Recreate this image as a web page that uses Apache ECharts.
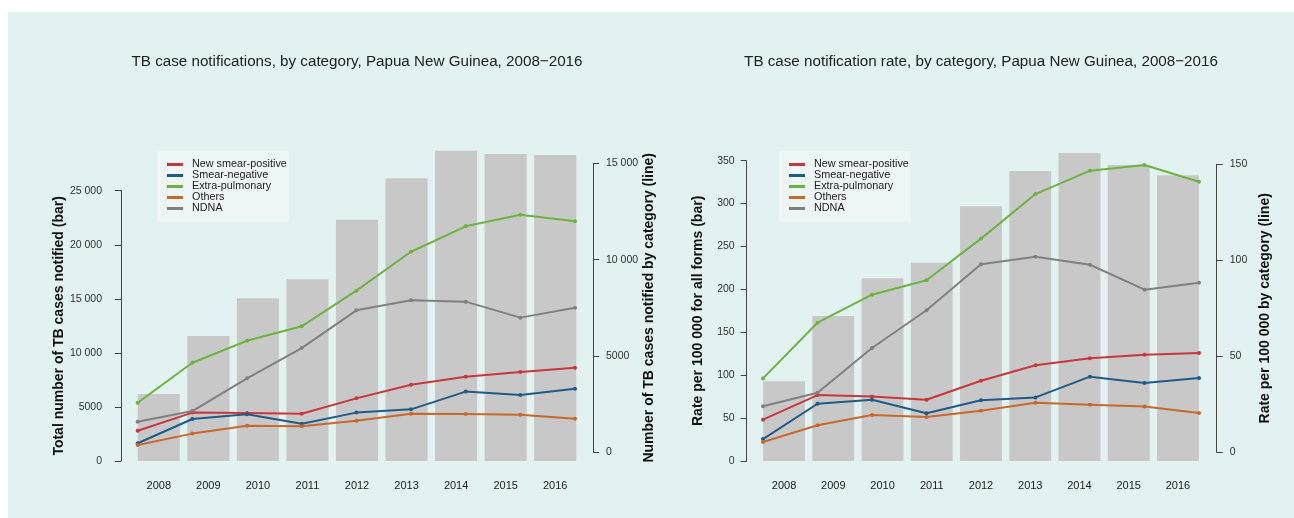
<!DOCTYPE html>
<html>
<head>
<meta charset="utf-8">
<script src="https://cdn.jsdelivr.net/npm/echarts@6/dist/echarts.min.js"></script>
<style>
  html, body { margin: 0; padding: 0; background: #ffffff; }
  #wrap { position: absolute; left: 8px; top: 12px; right: 0; bottom: 0; background: #e2f2f0; }
  #chart { position: absolute; left: 0; top: 0; width: 1294px; height: 518px; }
</style>
</head>
<body>
<div id="wrap"></div>
<div id="chart"></div>
<script>
var years = ['2008', '2009', '2010', '2011', '2012', '2013', '2014', '2015', '2016'];
var seriesNames = ['New smear-positive', 'Smear-negative', 'Extra-pulmonary', 'Others', 'NDNA'];
var seriesColors = ['#c8373b', '#1f5b87', '#6cb33f', '#c7692b', '#808080'];

// case notifications (numbers)
var totalCases = [6200, 11550, 15050, 16800, 22300, 26150, 28700, 28400, 28300];
var newSmearPos = [1120, 2060, 2040, 2000, 2800, 3510, 3920, 4170, 4390];
var smearNeg = [470, 1730, 1970, 1480, 2060, 2230, 3150, 2970, 3300];
var extraPulm = [2570, 4650, 5790, 6540, 8390, 10410, 11730, 12330, 11990];
var others = [380, 970, 1380, 1350, 1640, 2000, 1990, 1950, 1740];
var ndna = [1590, 2140, 3840, 5410, 7370, 7890, 7820, 6990, 7500];

// notification rates per 100 000
var totalRate = [93, 169, 213, 231, 297, 338, 359, 345, 333];
var rateNewSmearPos = [17, 29.8, 29, 27.4, 37.3, 45.3, 49, 50.8, 51.7];
var rateSmearNeg = [6.9, 25.3, 27.4, 20.3, 27.1, 28.6, 39.4, 36.1, 38.7];
var rateExtraPulm = [38.5, 67.5, 82.1, 89.6, 111.3, 134.5, 146.7, 149.6, 140.9];
var rateOthers = [5.4, 14.1, 19.4, 18.4, 21.7, 25.8, 24.8, 23.8, 20.5];
var rateNdna = [24, 31, 54.3, 74, 97.9, 101.9, 97.7, 84.7, 88.3];

var chart = echarts.init(document.getElementById('chart'), null, { renderer: 'canvas' });

var FONT = 'Liberation Sans, Arial, sans-serif';
var axisCol = '#444444';

function fmtNum(v) {
    // 5000 stays plain, 10 000 and above get a space
    if (v >= 10000) return String(v).replace(/\B(?=(\d{3})+(?!\d))/g, ' ');
    return String(v);
}

function lineSeries(name, color, data, xi, yi) {
    return {
        name: name,
        type: 'line',
        xAxisIndex: xi,
        yAxisIndex: yi,
        data: data,
        symbol: 'circle',
        symbolSize: 4,
        lineStyle: { color: color, width: 2 },
        itemStyle: { color: color },
        z: 5
    };
}

function legendFor(left) {
    return {
        left: left, top: 151,
        orient: 'vertical',
        data: seriesNames,
        icon: 'rect',
        itemWidth: 16, itemHeight: 3,
        itemGap: 0,
        padding: [8, 2, 8, 10],
        backgroundColor: '#edf6f5',
        textStyle: { fontFamily: FONT, fontSize: 10.8, color: '#222', padding: [0, 0, 0, 4], lineHeight: 11 }
    };
}

var hiddenX = { type: 'category', data: years, show: false };

var option = {
    backgroundColor: 'transparent',
    animation: false,
    color: seriesColors,
    title: [
        { text: 'TB case notifications, by category, Papua New Guinea, 2008\u22122016', left: 352, top: 49, textAlign: 'center',
          textStyle: { fontFamily: FONT, fontSize: 15.2, fontWeight: 'normal', color: '#222' } },
        { text: 'TB case notification rate, by category, Papua New Guinea, 2008\u22122016', left: 976, top: 49, textAlign: 'center',
          textStyle: { fontFamily: FONT, fontSize: 15.2, fontWeight: 'normal', color: '#222' } }
    ],
    legend: [legendFor(157), legendFor(779)],
    grid: [
        // left chart: bars, left axis, lines
        { left: 134, right: 714, top: 136.6, bottom: 57 },
        { left: 121, right: 714, top: 190.7, bottom: 57 },
        { left: 137.7, right: 719, top: 163.3, bottom: 65.7 },
        // right chart
        { left: 759.4, right: 91.4, top: 117.8, bottom: 57 },
        { left: 746.7, right: 91.4, top: 160.7, bottom: 57 },
        { left: 763, right: 95, top: 164.3, bottom: 65.7 }
    ],
    xAxis: [
        { type: 'category', data: years, gridIndex: 0,
          axisLine: { show: false }, axisTick: { show: false },
          axisLabel: { margin: 19, fontFamily: FONT, fontSize: 11, color: '#222' } },
        Object.assign({ gridIndex: 1 }, hiddenX),
        Object.assign({ gridIndex: 2, boundaryGap: false }, hiddenX),
        { type: 'category', data: years, gridIndex: 3,
          axisLine: { show: false }, axisTick: { show: false },
          axisLabel: { margin: 19, fontFamily: FONT, fontSize: 11, color: '#222' } },
        Object.assign({ gridIndex: 4 }, hiddenX),
        Object.assign({ gridIndex: 5, boundaryGap: false }, hiddenX)
    ],
    yAxis: [
        // 0: bars of left chart (hidden scale)
        { type: 'value', gridIndex: 0, min: 0, max: 30000, show: false },
        // 1: visible bar scale, left chart
        { type: 'value', gridIndex: 1, min: 0, max: 25000, interval: 5000, position: 'left',
          name: 'Total number of TB cases notified (bar)', nameLocation: 'middle', nameGap: 55,
          nameTextStyle: { fontFamily: FONT, fontSize: 14, fontWeight: 'bold', color: '#111' },
          axisLine: { show: true, lineStyle: { color: axisCol } },
          axisTick: { show: true, length: 6, lineStyle: { color: axisCol } },
          axisLabel: { margin: 19, fontFamily: FONT, fontSize: 10.5, color: '#333', formatter: fmtNum },
          splitLine: { show: false } },
        // 2: line scale, left chart
        { type: 'value', gridIndex: 2, min: 0, max: 15000, interval: 5000, position: 'right', offset: 18,
          name: 'Number of TB cases notified by category (line)', nameLocation: 'middle', nameGap: 48,
          nameTextStyle: { fontFamily: FONT, fontSize: 14, fontWeight: 'bold', color: '#111' },
          axisLine: { show: true, lineStyle: { color: axisCol } },
          axisTick: { show: true, length: 6, lineStyle: { color: axisCol } },
          axisLabel: { margin: 13, fontFamily: FONT, fontSize: 10.5, color: '#333', formatter: fmtNum },
          splitLine: { show: false } },
        // 3: bars of right chart
        { type: 'value', gridIndex: 3, min: 0, max: 400, show: false },
        // 4: visible rate scale
        { type: 'value', gridIndex: 4, min: 0, max: 350, interval: 50, position: 'left',
          name: 'Rate per 100 000 for all forms (bar)', nameLocation: 'middle', nameGap: 42,
          nameTextStyle: { fontFamily: FONT, fontSize: 14, fontWeight: 'bold', color: '#111' },
          axisLine: { show: true, lineStyle: { color: axisCol } },
          axisTick: { show: true, length: 6, lineStyle: { color: axisCol } },
          axisLabel: { margin: 12, fontFamily: FONT, fontSize: 10.5, color: '#333' },
          splitLine: { show: false } },
        // 5: line rate scale
        { type: 'value', gridIndex: 5, min: 0, max: 150, interval: 50, position: 'right', offset: 17.7,
          name: 'Rate per 100 000 by category (line)', nameLocation: 'middle', nameGap: 41,
          nameTextStyle: { fontFamily: FONT, fontSize: 14, fontWeight: 'bold', color: '#111' },
          axisLine: { show: true, lineStyle: { color: axisCol } },
          axisTick: { show: true, length: 6, lineStyle: { color: axisCol } },
          axisLabel: { margin: 13, fontFamily: FONT, fontSize: 10.5, color: '#333' },
          splitLine: { show: false } }
    ],
    series: [
        { name: 'Total', type: 'bar', xAxisIndex: 0, yAxisIndex: 0, data: totalCases,
          barCategoryGap: '15%', itemStyle: { color: '#c8c8c8' }, z: 1 },
        lineSeries(seriesNames[0], seriesColors[0], newSmearPos, 2, 2),
        lineSeries(seriesNames[1], seriesColors[1], smearNeg, 2, 2),
        lineSeries(seriesNames[2], seriesColors[2], extraPulm, 2, 2),
        lineSeries(seriesNames[3], seriesColors[3], others, 2, 2),
        lineSeries(seriesNames[4], seriesColors[4], ndna, 2, 2),

        { name: 'Total rate', type: 'bar', xAxisIndex: 3, yAxisIndex: 3, data: totalRate,
          barCategoryGap: '15%', itemStyle: { color: '#c8c8c8' }, z: 1 },
        lineSeries(seriesNames[0], seriesColors[0], rateNewSmearPos, 5, 5),
        lineSeries(seriesNames[1], seriesColors[1], rateSmearNeg, 5, 5),
        lineSeries(seriesNames[2], seriesColors[2], rateExtraPulm, 5, 5),
        lineSeries(seriesNames[3], seriesColors[3], rateOthers, 5, 5),
        lineSeries(seriesNames[4], seriesColors[4], rateNdna, 5, 5)
    ]
};

chart.setOption(option);
</script>
</body>
</html>
